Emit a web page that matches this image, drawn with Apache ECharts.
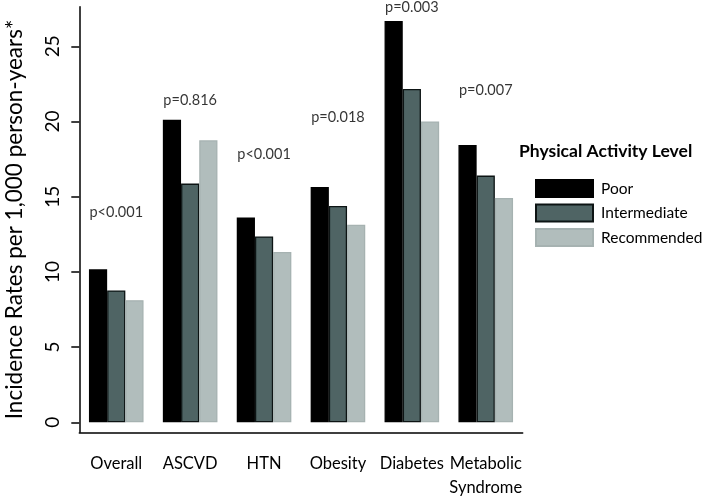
<!DOCTYPE html>
<html>
<head>
<meta charset="utf-8">
<script src="https://cdn.jsdelivr.net/npm/echarts@6/dist/echarts.min.js"></script>
<style>
  html, body { margin: 0; padding: 0; background: #fff; }
  #chart { width: 709px; height: 496px; }
</style>
</head>
<body>
<div id="chart"></div>
<script>
  // -------- Data --------
  const categories = ['Overall', 'ASCVD', 'HTN', 'Obesity', 'Diabetes', 'Metabolic\nSyndrome'];
  const poor = [10.17, 20.11, 13.61, 15.65, 26.68, 18.43];
  const intermediate = [8.77, 15.87, 12.36, 14.38, 22.16, 16.40];
  const recommended = [8.12, 18.75, 11.32, 13.14, 20.0, 14.91];
  const pLabels = ['p<0.001', 'p=0.816', 'p<0.001', 'p=0.018', 'p=0.003', 'p=0.007'];
  const pLabelHeight = [13.94, 21.43, 17.84, 20.25, 27.6, 22.05];
  const yTicks = [0, 5, 10, 15, 20, 25];

  const FONT = 'Lato, "Open Sans", sans-serif';

  const chart = echarts.init(document.getElementById('chart'), null, { renderer: 'canvas' });

  const barSeries = (name, data, fill, border) => ({
    name,
    type: 'bar',
    data,
    barWidth: 18.2,
    barGap: '0%',
    itemStyle: { color: fill, borderColor: border, borderWidth: 1.3 },
    emphasis: { disabled: true },
  });

  chart.setOption({
    animation: false,
    textStyle: { fontFamily: FONT },
    title: {
      text: 'Physical Activity Level',
      left: 514,
      top: 137,
      textStyle: { fontFamily: FONT, fontWeight: 'bold', fontSize: 17.5, color: '#000' },
    },
    legend: {
      data: ['Poor', 'Intermediate', 'Recommended'],
      icon: 'rect',
      orient: 'vertical',
      left: 530,
      top: 174,
      itemWidth: 57,
      itemHeight: 17,
      itemGap: 5.5,
      textStyle: { fontFamily: FONT, fontSize: 15.5, color: '#000', padding: [0, 0, 0, 3] },
    },
    grid: {
      left: 79.3, right: 186.3, top: 6.7, bottom: 63.7,
      containLabel: false, outerBoundsMode: 'none',
    },
    xAxis: {
      type: 'category',
      data: categories,
      axisLine: { onZero: false, lineStyle: { color: '#000', width: 1.5 } },
      axisTick: { alignWithLabel: true, length: 7, lineStyle: { color: '#000', width: 1.5 } },
      axisLabel: { color: '#000', fontSize: 16.5, margin: 19, lineHeight: 24, interval: 0 },
    },
    yAxis: {
      type: 'value',
      min: -0.665,
      max: 27.63,
      name: 'Incidence Rates per 1,000 person-years*',
      nameLocation: 'middle',
      nameRotate: 90,
      nameGap: 53,
      nameTextStyle: { color: '#000', fontSize: 22.5, fontFamily: FONT },
      splitLine: { show: false },
      axisLine: { show: true, lineStyle: { color: '#000', width: 1.5 } },
      axisTick: { show: true, length: 8, customValues: yTicks, lineStyle: { color: '#000', width: 1.5 } },
      axisLabel: { color: '#000', fontSize: 19, rotate: 90, margin: 17, customValues: yTicks },
    },
    series: [
      barSeries('Poor', poor, '#000000', '#000000'),
      barSeries('Intermediate', intermediate, '#4f6464', '#0d1414'),
      barSeries('Recommended', recommended, '#b1bdbc', '#a6b2b1'),
      {
        name: 'p',
        type: 'scatter',
        data: pLabelHeight.map((v, i) => [i, v]),
        symbolSize: 0,
        silent: true,
        label: {
          show: true,
          position: 'inside',
          color: '#000',
          fontSize: 14.5,
          fontFamily: FONT,
          formatter: (p) => pLabels[p.dataIndex],
        },
      },
    ],
  });
</script>
</body>
</html>
